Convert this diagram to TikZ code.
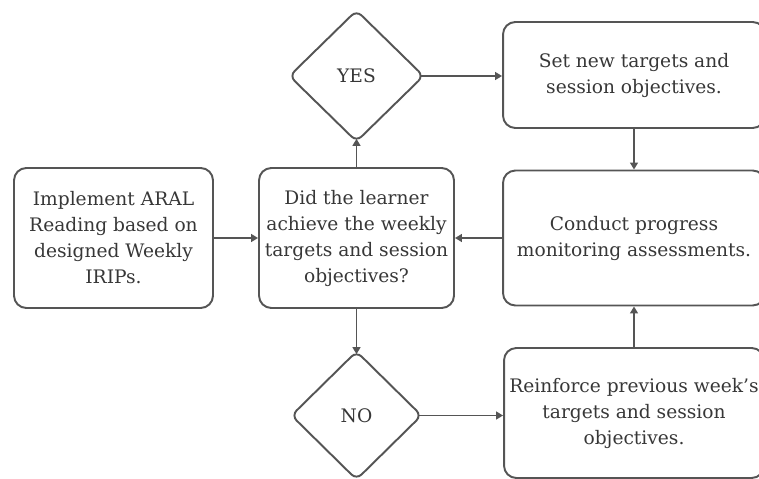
\documentclass[tikz,border=0pt]{standalone}
\usepackage{fontspec}
\setmainfont{DejaVu Serif}
\usepackage{xcolor}
\definecolor{flowline}{RGB}{85,85,85}
\definecolor{flowtext}{RGB}{55,55,55}
\usetikzlibrary{arrows.meta, shapes.geometric}

\begin{document}
\begin{tikzpicture}[x=0.02cm, y=-0.02cm,
    stepbox/.style={draw=flowline, line width=1.1pt, rounded corners=7pt,
      text=flowtext, align=center, inner sep=2pt,
      font={\fontsize{10.6pt}{14.8pt}\selectfont}},
    choice/.style={draw=flowline, line width=1.1pt, diamond, aspect=1,
      rounded corners=4pt, inner sep=0pt, outer sep=0pt, text=flowtext,
      font={\fontsize{10.6pt}{14.8pt}\selectfont}},
    flow/.style={-{Triangle[length=4pt,width=4.5pt]}, flowline, line width=1.1pt},
    fromchoice/.style={shorten <=-1.5pt},
    tochoice/.style={shorten >=-1.5pt}]

\useasboundingbox (0,0) rectangle (759,479);
\clip (0,0) rectangle (759,479);

% === Left side: start and decision ===
\node[stepbox, minimum width=3.98cm, minimum height=2.8cm] (implement) at (113.5,238)
     {Implement ARAL\\Reading based on\\designed Weekly\\IRIPs.};

\node[stepbox, minimum width=3.9cm, minimum height=2.8cm] (question) at (356.5,238)
     {Did the learner\\achieve the weekly\\targets and session\\objectives?};

% === Answers ===
\node[choice, minimum width=2.68cm, minimum height=2.62cm] (yes) at (356.5,76) {YES};
\node[choice, minimum width=2.6cm, minimum height=2.56cm] (no) at (356.5,415.5) {NO};

% === Right side: follow-up steps ===
\node[stepbox, minimum width=5.24cm, minimum height=2.12cm] (settargets) at (634,75)
     {Set new targets and\\session objectives.};

\node[stepbox, minimum width=5.24cm, minimum height=2.7cm] (monitor) at (634,238)
     {Conduct progress\\monitoring assessments.};

\node[stepbox, minimum width=5.2cm, minimum height=2.6cm] (reinforce) at (634,413)
     {Reinforce previous week's\\targets and session\\objectives.};

% === Connectors ===
\draw[flow] (implement.east) -- (question.west);
\draw[flow, tochoice] (question.north) -- (yes.south);
\draw[flow, fromchoice] (yes.east) -- (settargets.west |- yes.east);
\draw[flow] (settargets.south) -- (monitor.north);
\draw[flow] (monitor.west) -- (question.east);
\draw[flow, tochoice] (question.south) -- (no.north);
\draw[flow, fromchoice] (no.east) -- (reinforce.west |- no.east);
\draw[flow] (reinforce.north) -- (monitor.south);

\end{tikzpicture}
\end{document}
